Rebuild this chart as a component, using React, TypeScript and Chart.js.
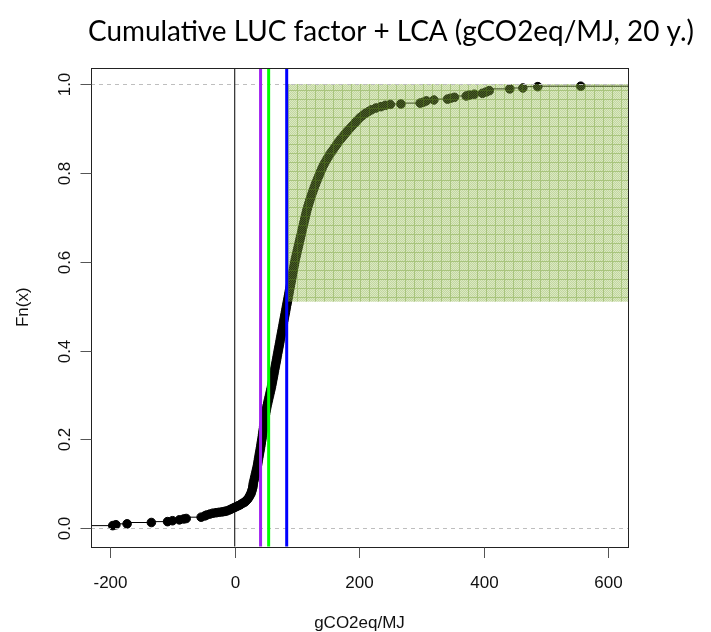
import React, { useEffect, useRef } from "react";
import { Chart, registerables } from "chart.js";

Chart.register(...registerables);

const TITLE = "Cumulative LUC factor + LCA (gCO2eq/MJ, 20 y.)";
const X_LABEL = "gCO2eq/MJ";
const Y_LABEL = "Fn(x)";
const X_TICKS = [-200, 0, 200, 400, 600];
const X_TICK_LABELS = ["-200", "0", "200", "400", "600"];
const Y_TICKS = [0, 0.2, 0.4, 0.6, 0.8, 1.0];
const Y_TICK_LABELS = ["0.0", "0.2", "0.4", "0.6", "0.8", "1.0"];
const X_RANGE = [-231, 632];
const Y_RANGE = [-0.041, 1.036];

// empirical cumulative distribution points (x = gCO2eq/MJ, y = Fn(x))
const ecdfX = [
  -196, -191, -173, -134, -108, -100, -89, -82, -78, -54, -48, -45, -40, -35, -30, -25, -20, -16, -13, -9,
  -6, -3, 0, 3, 6, 9, 12, 15, 17, 19, 21, 23, 24.5, 26, 27, 28, 29, 29.5, 30, 31,
  32, 33, 34, 35, 36, 36.8, 37.5, 38.2, 39, 39.7, 40.5, 41.2, 42, 42.6, 43.3, 44, 44.6, 45.2, 45.8, 46.4,
  47, 47.6, 48.2, 48.9, 49.6, 50.4, 51.2, 52, 53, 54, 55, 56, 57, 58, 59, 59.8, 60.6, 61.4, 62.2, 63,
  63.8, 64.6, 65.4, 66.2, 67, 67.8, 68.6, 69.4, 70.2, 71, 71.8, 72.6, 73.4, 74.2, 75, 75.8, 76.6, 77.4, 78.2, 79,
  79.8, 80.6, 81.4, 82.2, 83, 83.8, 84.6, 85.4, 86.2, 87, 87.8, 88.6, 89.4, 90.2, 91, 91.8, 92.6, 93.4, 94.2, 95,
  95.8, 96.6, 97.5, 98.5, 99.5, 100.5, 101.5, 102.5, 103.5, 104.5, 105.5, 106.5, 107.5, 108.5, 109.5, 110.5, 111.5, 112.5, 113.5, 114.5,
  115.5, 116.7, 118, 119.3, 120.6, 122, 123.5, 125, 126.5, 128, 129.6, 131.3, 133, 134.8, 136.6, 138.4, 140.3, 142.3, 144.5, 147,
  149.5, 152, 155, 158, 161, 164, 167, 170.5, 174, 177.5, 181, 185, 189, 193, 197, 201, 205.5, 210, 215, 220,
  227, 235, 242, 250, 267, 298, 303, 308, 320, 342, 347, 353, 372, 377, 385, 398, 404, 409, 442, 463,
  487, 556,
];
const ecdfY = [
  0.006, 0.008, 0.010, 0.013, 0.015, 0.017, 0.019, 0.021, 0.022, 0.025, 0.028, 0.030, 0.032, 0.034, 0.035, 0.036, 0.037, 0.038, 0.039, 0.041,
  0.043, 0.045, 0.047, 0.049, 0.051, 0.053, 0.056, 0.058, 0.060, 0.063, 0.066, 0.070, 0.074, 0.078, 0.082, 0.087, 0.092, 0.097, 0.102, 0.108,
  0.114, 0.120, 0.126, 0.132, 0.138, 0.144, 0.150, 0.156, 0.162, 0.168, 0.174, 0.180, 0.186, 0.192, 0.198, 0.204, 0.210, 0.216, 0.222, 0.228,
  0.234, 0.240, 0.246, 0.252, 0.258, 0.264, 0.270, 0.276, 0.282, 0.288, 0.294, 0.300, 0.306, 0.312, 0.318, 0.324, 0.330, 0.336, 0.342, 0.348,
  0.354, 0.360, 0.366, 0.372, 0.378, 0.384, 0.390, 0.396, 0.402, 0.408, 0.414, 0.420, 0.426, 0.432, 0.438, 0.444, 0.450, 0.456, 0.462, 0.468,
  0.474, 0.480, 0.486, 0.492, 0.498, 0.504, 0.510, 0.516, 0.522, 0.528, 0.534, 0.540, 0.546, 0.552, 0.558, 0.564, 0.570, 0.576, 0.582, 0.588,
  0.594, 0.600, 0.606, 0.612, 0.618, 0.624, 0.630, 0.636, 0.642, 0.648, 0.654, 0.660, 0.666, 0.672, 0.678, 0.684, 0.690, 0.696, 0.702, 0.708,
  0.714, 0.720, 0.726, 0.732, 0.738, 0.744, 0.750, 0.756, 0.762, 0.768, 0.774, 0.780, 0.786, 0.792, 0.798, 0.804, 0.810, 0.816, 0.822, 0.828,
  0.834, 0.840, 0.846, 0.852, 0.858, 0.864, 0.870, 0.876, 0.882, 0.888, 0.894, 0.900, 0.906, 0.912, 0.918, 0.924, 0.929, 0.934, 0.938, 0.942,
  0.946, 0.949, 0.952, 0.954, 0.955, 0.957, 0.959, 0.962, 0.964, 0.966, 0.968, 0.970, 0.973, 0.975, 0.977, 0.979, 0.982, 0.985, 0.989, 0.991,
  0.994, 0.995,
];

// vertical reference lines
const REF_VALUES = [0, 41.5, 54.5, 83.5];
const REF_COLORS = ["#000000", "#a020f0", "#00ff00", "#0000ff"];
const REF_WIDTHS = [1, 3, 3, 3];

// shaded region (x from, y from, y to); extends to the right plot edge
const SHADE_X_FROM = 83.5;
const SHADE_Y = [0.51, 1.0];
const DASHED_LEVELS = [0, 1];

function makePattern(ctx: CanvasRenderingContext2D) {
  const size = 9;
  const c = document.createElement("canvas");
  c.width = size;
  c.height = size;
  const p = c.getContext("2d")!;
  for (let i = 0; i < size; i++) {
    for (let j = 0; j < size; j++) {
      let col: string;
      if (i === 0 || j === 0) col = "rgba(115,160,45,0.62)";
      else col = (i + j) % 2 === 0 ? "rgba(140,180,70,0.52)" : "rgba(140,180,70,0.32)";
      p.fillStyle = col;
      p.fillRect(i, j, 1, 1);
    }
  }
  return ctx.createPattern(c, "repeat");
}

const rPlugin = {
  id: "rStyle",
  beforeDatasetsDraw(chart: any) {
    const { ctx, chartArea: ca, scales } = chart;
    const x = scales.x, y = scales.y;
    const n = ecdfX.length - 1;
    ctx.save();
    ctx.strokeStyle = "#000";
    ctx.lineWidth = 1;
    ctx.beginPath();
    const fy = y.getPixelForValue(ecdfY[0]);
    ctx.moveTo(ca.left, fy);
    ctx.lineTo(x.getPixelForValue(ecdfX[0]), fy);
    const ly = y.getPixelForValue(ecdfY[n]);
    ctx.moveTo(x.getPixelForValue(ecdfX[n]), ly);
    ctx.lineTo(ca.right, ly);
    ctx.stroke();
    ctx.restore();
  },
  afterDatasetsDraw(chart: any) {
    const { ctx, chartArea: ca, scales } = chart;
    const x = scales.x, y = scales.y;
    ctx.save();
    // shaded region
    const pat = makePattern(ctx);
    const sx0 = x.getPixelForValue(SHADE_X_FROM);
    const sy0 = y.getPixelForValue(SHADE_Y[1]);
    const sy1 = y.getPixelForValue(SHADE_Y[0]);
    if (pat) {
      ctx.fillStyle = pat;
      ctx.fillRect(sx0, sy0, ca.right - sx0, sy1 - sy0);
    }
    // dashed 0/1 lines
    ctx.strokeStyle = "#bebebe";
    ctx.lineWidth = 1;
    ctx.setLineDash([4, 4]);
    for (const lv of DASHED_LEVELS) {
      const py = Math.round(y.getPixelForValue(lv)) + 0.5;
      ctx.beginPath();
      ctx.moveTo(ca.left, py);
      ctx.lineTo(ca.right, py);
      ctx.stroke();
    }
    ctx.setLineDash([]);
    // vertical reference lines
    REF_VALUES.forEach((v, i) => {
      const px = x.getPixelForValue(v);
      ctx.strokeStyle = REF_COLORS[i];
      ctx.lineWidth = REF_WIDTHS[i];
      ctx.beginPath();
      ctx.moveTo(px, ca.top);
      ctx.lineTo(px, ca.bottom);
      ctx.stroke();
    });
    ctx.restore();
  },
  afterDraw(chart: any) {
    const { ctx, chartArea: ca, scales } = chart;
    const x = scales.x, y = scales.y;
    ctx.save();
    // box
    ctx.strokeStyle = "#222";
    ctx.lineWidth = 1;
    ctx.strokeRect(Math.round(ca.left) + 0.5, Math.round(ca.top) + 0.5, Math.round(ca.right - ca.left), Math.round(ca.bottom - ca.top));
    // x ticks
    ctx.strokeStyle = "#555";
    ctx.fillStyle = "#111";
    ctx.font = "17px 'Liberation Sans', Arial, sans-serif";
    ctx.textAlign = "center";
    ctx.textBaseline = "alphabetic";
    const bottom = Math.round(ca.bottom) + 0.5;
    X_TICKS.forEach((v, i) => {
      const px = Math.round(x.getPixelForValue(v)) + 0.5;
      ctx.beginPath();
      ctx.moveTo(px, bottom);
      ctx.lineTo(px, bottom + 10.5);
      ctx.stroke();
      ctx.fillText(X_TICK_LABELS[i], px, bottom + 40.5);
    });
    // y ticks
    const left = Math.round(ca.left) + 0.5;
    Y_TICKS.forEach((v, i) => {
      const py = Math.round(y.getPixelForValue(v)) + 0.5;
      ctx.beginPath();
      ctx.moveTo(left, py);
      ctx.lineTo(left - 11, py);
      ctx.stroke();
      ctx.save();
      ctx.translate(70, py);
      ctx.rotate(-Math.PI / 2);
      ctx.fillText(Y_TICK_LABELS[i], 0, 0);
      ctx.restore();
    });
    // axis titles
    ctx.fillText(X_LABEL, (ca.left + ca.right) / 2, 628);
    ctx.save();
    ctx.translate(28, (ca.top + ca.bottom) / 2);
    ctx.rotate(-Math.PI / 2);
    ctx.fillText(Y_LABEL, 0, 0);
    ctx.restore();
    // main title
    ctx.fillStyle = "#000";
    ctx.font = "29px Lato, 'Open Sans', sans-serif";
    ctx.textAlign = "left";
    const w = ctx.measureText(TITLE).width;
    const target = 606;
    ctx.save();
    ctx.translate(88, 41);
    ctx.scale(target / w, 1);
    ctx.fillText(TITLE, 0, 0);
    ctx.restore();
    ctx.restore();
  },
};

export default function App() {
  const ref = useRef<HTMLCanvasElement | null>(null);
  useEffect(() => {
    document.body.style.margin = "0";
    const canvas = ref.current!;
    const chart = new Chart(canvas, {
      type: "line",
      data: {
        datasets: [
          {
            data: ecdfX.map((v, i) => ({ x: v, y: ecdfY[i] })),
            stepped: "after",
            borderColor: "#000",
            borderWidth: 1,
            pointRadius: 4.3,
            pointBorderWidth: 1,
            pointBackgroundColor: "#000",
            pointBorderColor: "#000",
            fill: false,
          },
        ],
      },
      options: {
        responsive: false,
        animation: false,
        layout: { padding: { left: 91, top: 68, right: 83, bottom: 85.5 } },
        plugins: { legend: { display: false }, tooltip: { enabled: false }, title: { display: false } },
        scales: {
          x: { type: "linear", min: X_RANGE[0], max: X_RANGE[1], display: false },
          y: { type: "linear", min: Y_RANGE[0], max: Y_RANGE[1], display: false },
        },
      },
      plugins: [rPlugin],
    });
    return () => chart.destroy();
  }, []);
  return (
    <div style={{ position: "absolute", left: 0, top: 0, width: 711, height: 632, background: "#fff" }}>
      <canvas ref={ref} width={711} height={632} style={{ display: "block" }} />
    </div>
  );
}
